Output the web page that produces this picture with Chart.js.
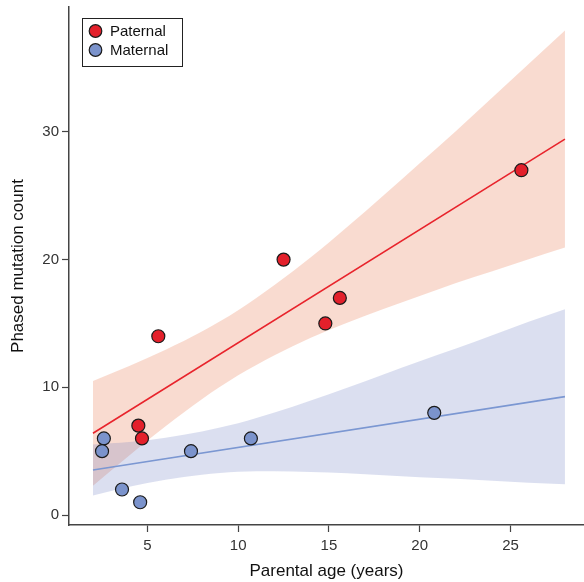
<!DOCTYPE html>
<html>
<head>
<meta charset="utf-8">
<script src="https://cdn.jsdelivr.net/npm/chart.js@4.4.1/dist/chart.umd.min.js"></script>
<style>
  html, body { margin: 0; padding: 0; background: #ffffff; }
  #wrap { width: 584px; height: 582px; position: relative; }
</style>
</head>
<body>
<div id="wrap"><canvas id="c" width="584" height="582"></canvas></div>
<script>
// ---- data ----
const paternalAge   = [4.5, 4.7, 5.6, 12.5, 14.8, 15.6, 25.6];
const paternalCount = [7, 6, 14, 20, 15, 17, 27];
const maternalAge   = [2.6, 2.5, 3.6, 4.6, 7.4, 10.7, 20.8];
const maternalCount = [6, 5, 2, 1, 5, 6, 8];

const fitAge = [2, 28];
const paternalFit = [6.40, 29.44];
const maternalFit = [3.52, 9.27];

const bandAge = [2, 4, 6, 8, 10, 12, 14, 16, 18, 20, 22, 24, 26, 28];
const paternalUpper = [10.50, 11.67, 12.95, 14.37, 16.04, 18.01, 20.18, 22.56, 25.03, 27.55, 30.07, 32.69, 35.32, 37.94];
const paternalLower = [2.30, 4.67, 6.95, 9.07, 10.94, 12.51, 13.88, 15.06, 16.13, 17.15, 18.17, 19.09, 20.02, 20.94];
const maternalUpper = [5.52, 5.71, 6.06, 6.55, 7.19, 8.03, 8.97, 9.97, 11.01, 12.05, 13.04, 14.08, 15.13, 16.12];
const maternalLower = [1.52, 2.21, 2.76, 3.15, 3.39, 3.43, 3.37, 3.27, 3.11, 2.95, 2.84, 2.68, 2.53, 2.42];

const xTicks = [5, 10, 15, 20, 25];
const yTicks = [0, 10, 20, 30];
const seriesNames = ['Paternal', 'Maternal'];
const xTitle = 'Parental age (years)';
const yTitle = 'Phased mutation count';

// ---- styles ----
const RED = '#e3202b';
const BLUE = '#7b93cc';
const RED_LINE = '#e8242c';
const BLUE_LINE = '#7b97d2';
const RED_BAND = 'rgba(232,106,60,0.24)';
const BLUE_BAND = 'rgba(100,120,190,0.235)';
const FONT = "'Liberation Sans', Arial, sans-serif";

const pts = (xs, ys) => xs.map((x, i) => ({ x: x, y: ys[i] }));

const legendPlugin = {
  id: 'boxLegend',
  afterDraw(chart) {
    const ctx = chart.ctx;
    const items = chart.data.datasets.filter(d => d.inLegend);
    ctx.save();
    ctx.fillStyle = '#ffffff';
    ctx.fillRect(82, 18, 101, 49);
    ctx.strokeStyle = '#222222';
    ctx.lineWidth = 1;
    ctx.strokeRect(82.5, 18.5, 100, 48);
    items.forEach((d, i) => {
      const cy = 31 + i * 19;
      ctx.beginPath();
      ctx.arc(95.5, cy, 6.3, 0, Math.PI * 2);
      ctx.fillStyle = d.backgroundColor;
      ctx.fill();
      ctx.lineWidth = 1.2;
      ctx.strokeStyle = '#1a1a1a';
      ctx.stroke();
      ctx.fillStyle = '#111111';
      ctx.font = '15px ' + FONT;
      ctx.textBaseline = 'middle';
      ctx.textAlign = 'left';
      ctx.fillText(d.label, 110, cy + 0.5);
    });
    ctx.restore();
  }
};

const bandStyle = { showLine: true, borderWidth: 0, borderColor: 'rgba(0,0,0,0)', pointRadius: 0, cubicInterpolationMode: 'monotone' };

new Chart(document.getElementById('c'), {
  type: 'scatter',
  data: {
    datasets: [
      { label: seriesNames[0], inLegend: true, data: pts(paternalAge, paternalCount),
        backgroundColor: RED, borderColor: '#1a1a1a', borderWidth: 1.2, pointRadius: 6.5, order: 0 },
      { label: seriesNames[1], inLegend: true, data: pts(maternalAge, maternalCount),
        backgroundColor: BLUE, borderColor: '#1a1a1a', borderWidth: 1.2, pointRadius: 6.5, order: 0 },
      { label: 'pfit', data: pts(fitAge, paternalFit), showLine: true, borderColor: RED_LINE,
        borderWidth: 1.6, pointRadius: 0, fill: false, order: 1 },
      { label: 'mfit', data: pts(fitAge, maternalFit), showLine: true, borderColor: BLUE_LINE,
        borderWidth: 1.6, pointRadius: 0, fill: false, order: 1 },
      Object.assign({ label: 'mup', data: pts(bandAge, maternalUpper), fill: '+1', backgroundColor: BLUE_BAND, order: 2 }, bandStyle),
      Object.assign({ label: 'mlo', data: pts(bandAge, maternalLower), fill: false, order: 2 }, bandStyle),
      Object.assign({ label: 'pup', data: pts(bandAge, paternalUpper), fill: '+1', backgroundColor: RED_BAND, order: 3 }, bandStyle),
      Object.assign({ label: 'plo', data: pts(bandAge, paternalLower), fill: false, order: 3 }, bandStyle)
    ]
  },
  options: {
    responsive: false,
    animation: false,
    devicePixelRatio: 1,
    layout: { autoPadding: false, padding: { left: 0, right: 0, top: 7, bottom: 0 } },
    plugins: { legend: { display: false }, tooltip: { enabled: false } },
    scales: {
      x: {
        type: 'linear', min: 0.68, max: 29.05,
        afterBuildTicks: s => { s.ticks = xTicks.map(v => ({ value: v })); },
        afterFit: s => { s.height = 57; s.paddingLeft = 0; s.paddingRight = 0; },
        border: { display: true, color: '#444444', width: 1.5 },
        grid: { display: true, drawOnChartArea: false, drawTicks: true, tickLength: 7, tickColor: '#444444', tickWidth: 1.2 },
        ticks: { color: '#333333', font: { family: FONT, size: 15 }, padding: 5, maxRotation: 0 },
        title: { display: true, text: xTitle, color: '#111111', font: { family: FONT, size: 17 }, padding: { top: 0, bottom: 0 } }
      },
      y: {
        type: 'linear', min: -0.78, max: 39.78,
        afterBuildTicks: s => { s.ticks = yTicks.map(v => ({ value: v })); },
        afterFit: s => { s.width = 69; s.paddingTop = 0; s.paddingBottom = 0; },
        border: { display: true, color: '#444444', width: 1.5 },
        grid: { display: true, drawOnChartArea: false, drawTicks: true, tickLength: 7, tickColor: '#444444', tickWidth: 1.2 },
        ticks: { color: '#333333', font: { family: FONT, size: 15 }, padding: 3 },
        title: { display: true, text: yTitle, color: '#111111', font: { family: FONT, size: 17 }, padding: { top: 8, bottom: 0 } }
      }
    }
  },
  plugins: [legendPlugin]
});
</script>
</body>
</html>
